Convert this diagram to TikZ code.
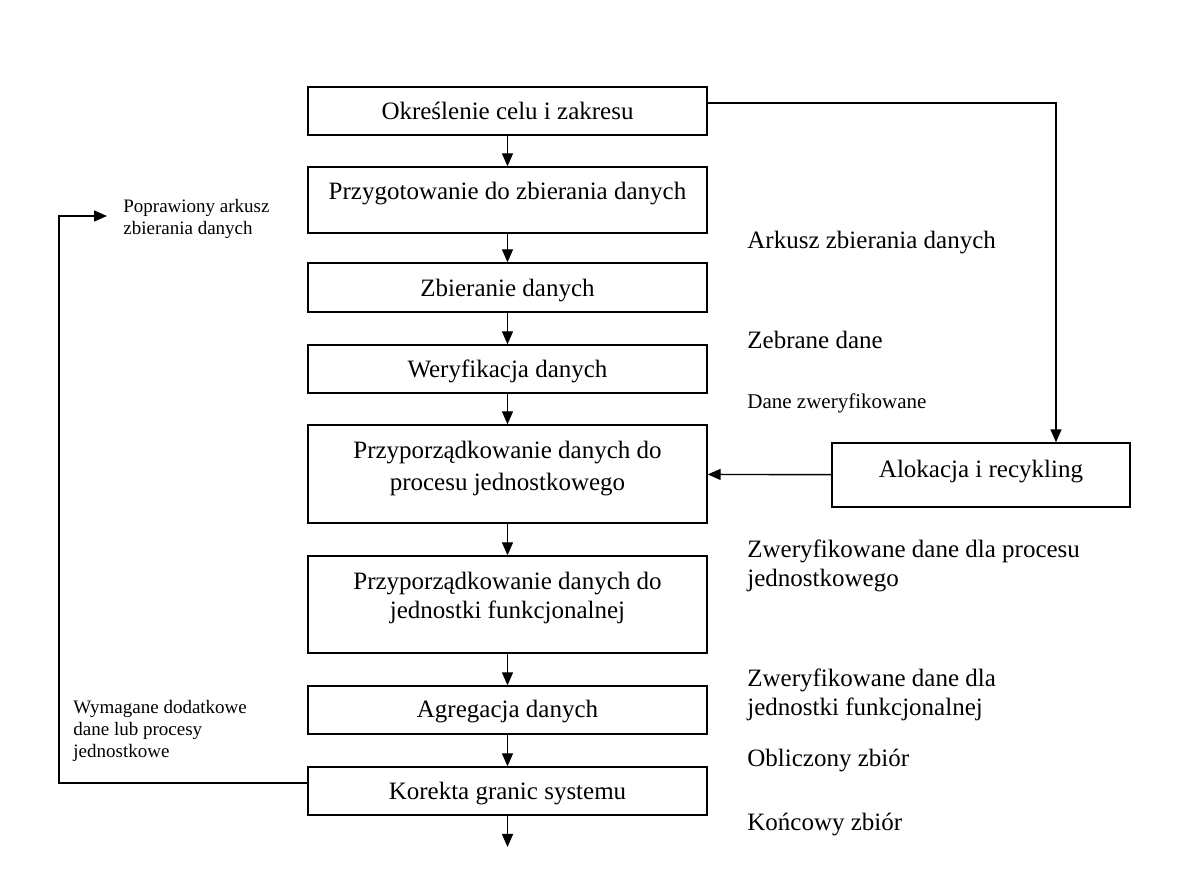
\documentclass[tikz,border=0pt]{standalone}
\usepackage{fontspec}
\setmainfont{Liberation Serif}
\usetikzlibrary{arrows.meta}
\begin{document}
\begin{tikzpicture}[x=0.5pt,y=-0.5pt,
  box/.style={draw, line width=0.7pt, inner sep=0pt, minimum width=199.5pt},
  big/.style={font=\fontsize{12.5}{14.5}\selectfont, inner sep=0pt, text height=0.7em, text depth=0.22em},
  bigml/.style={font=\fontsize{12.5}{14.5}\selectfont, inner sep=0pt, align=center},
  rlab/.style={font=\fontsize{12.5}{14.5}\selectfont, inner sep=0pt, anchor=west, align=left},
  slab/.style={font=\fontsize{9.5}{11}\selectfont, inner sep=0pt, anchor=west, align=left},
  mlab/.style={font=\fontsize{10.5}{12.5}\selectfont, inner sep=0pt, anchor=west, align=left},
  arr/.style={line width=0.7pt, -{Triangle[length=6.5pt,width=5.5pt]}},
  ln/.style={line width=0.7pt}]
\useasboundingbox (0,0) rectangle (1191,893);

% boxes
\node[box, minimum height=24pt]   (b1) at (507.5,111) {};
\node[box, minimum height=33pt]   (b2) at (507.5,200) {};
\node[box, minimum height=24.5pt] (b3) at (507.5,287.5) {};
\node[box, minimum height=24pt]   (b4) at (507.5,369) {};
\node[box, minimum height=49pt]   (b5) at (507.5,474) {};
\node[box, minimum height=48.5pt] (b6) at (507.5,604.5) {};
\node[box, minimum height=24pt]   (b7) at (507.5,710) {};
\node[box, minimum height=24pt]   (b8) at (507.5,791) {};
\node[box, minimum width=149pt, minimum height=32pt] (alloc) at (981,475) {};

% box texts
\node[big] (t1) at (507.5,115) {Określenie celu i zakresu};
\node[big] (t2) at (507.5,195) {Przygotowanie do zbierania danych};
\node[big] (t3) at (507.5,292) {Zbieranie danych};
\node[big] (t4) at (507.5,373) {Weryfikacja danych};
\node[bigml, font=\fontsize{12.5}{16}\selectfont] (t5) at (507.5,469) {Przyporządkowanie danych do\\procesu jednostkowego};
\node[bigml] (t6) at (507.5,598) {Przyporządkowanie danych do\\jednostki funkcjonalnej};
\node[big] (t7) at (507.5,713) {Agregacja danych};
\node[big] (t8) at (507.5,795) {Korekta granic systemu};
\node[big] (ta) at (981,473) {Alokacja i recykling};

% right labels
\node[rlab] (r1) at (747,243) {Arkusz zbierania danych};
\node[rlab] (r2) at (747,340) {Zebrane dane};
\node[mlab] (r3) at (747,403) {Dane zweryfikowane};
\node[rlab] (r4) at (747,566) {Zweryfikowane dane dla procesu\\jednostkowego};
\node[rlab] (r5) at (747,695) {Zweryfikowane dane dla\\jednostki funkcjonalnej};
\node[rlab] (r6) at (747,761) {Obliczony zbiór};
\node[rlab] (r7) at (747,825) {Końcowy zbiór};

% left labels
\node[slab] (l1) at (123,219) {Poprawiony arkusz\\zbierania danych};
\node[slab] (l2) at (73,731) {Wymagane dodatkowe\\dane lub procesy\\jednostkowe};

% main flow
\draw[arr] (b1) -- (b2);
\draw[arr] (b2) -- (b3);
\draw[arr] (b3) -- (b4);
\draw[arr] (b4) -- (b5);
\draw[arr] (b5) -- (b6);
\draw[arr] (b6) -- (b7);
\draw[arr] (b7) -- (b8);
\coordinate (endpt) at (507.5,847);
\draw[arr] (b8) -- (endpt);

% allocation branch
\draw[arr] ([yshift=4pt]b1.east) -| ([xshift=37.5pt]alloc.north);
\draw[arr] (alloc) -- (b5);

% feedback loop
\coordinate (fbtop) at (59,216);
\coordinate (fbend) at (107,216);
\draw[arr] ([yshift=4pt]b8.west) -| (fbtop) -- (fbend);
\end{tikzpicture}
\end{document}
